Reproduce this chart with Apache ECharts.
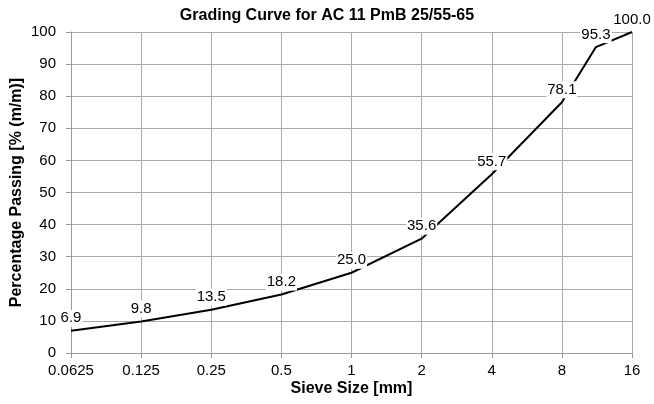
<!DOCTYPE html>
<html>
<head>
<meta charset="utf-8">
<script src="https://cdn.jsdelivr.net/npm/echarts@6/dist/echarts.min.js"></script>
<style>
  html, body { margin: 0; padding: 0; background: #fff; }
  #chart { width: 654px; height: 404px; }
</style>
</head>
<body>
<div id="chart"></div>
<script>
const sieveSizes = [0.0625, 0.125, 0.25, 0.5, 1, 2, 4, 8, 11.2, 16];
const passing = [6.9, 9.8, 13.5, 18.2, 25.0, 35.6, 55.7, 78.1, 95.3, 100.0];

const font = 'Liberation Sans, Arial, sans-serif';

const chart = echarts.init(document.getElementById('chart'), null, { renderer: 'canvas' });

chart.setOption({
  animation: false,
  title: {
    text: 'Grading Curve for AC 11 PmB 25/55-65',
    left: 'center',
    top: 3,
    textStyle: { fontFamily: font, fontSize: 16, fontWeight: 'bold', color: '#000' }
  },
  // keep the plot box fixed, the original's labels hang out to the left
  grid: { left: 71, right: 22, top: 32, bottom: 51, containLabel: false, outerBoundsMode: 'none' },
  xAxis: {
    type: 'log',
    logBase: 2,
    min: 0.0625,
    max: 16,
    name: 'Sieve Size [mm]',
    nameLocation: 'middle',
    nameGap: 28,
    nameMoveOverlap: false,
    nameTextStyle: { fontFamily: font, fontSize: 16, fontWeight: 'bold', color: '#000' },
    axisLine: { lineStyle: { color: '#999' } },
    axisTick: { show: true, length: 5, lineStyle: { color: '#999' } },
    splitLine: { show: true, lineStyle: { color: '#aaa' } },
    axisLabel: {
      fontFamily: font, fontSize: 15, color: '#000', margin: 10,
      formatter: v => String(+v.toPrecision(6))
    }
  },
  yAxis: {
    type: 'value',
    min: 0,
    max: 100,
    interval: 10,
    name: 'Percentage Passing [% (m/m)]',
    nameLocation: 'middle',
    nameGap: 46,
    nameMoveOverlap: false,
    nameTextStyle: { fontFamily: font, fontSize: 16, fontWeight: 'bold', color: '#000' },
    axisLine: { show: true, lineStyle: { color: '#999' } },
    axisTick: { show: true, length: 5, lineStyle: { color: '#999' } },
    splitLine: { show: true, lineStyle: { color: '#aaa' } },
    axisLabel: { fontFamily: font, fontSize: 15, color: '#000', margin: 15 }
  },
  series: [{
    type: 'line',
    data: sieveSizes.map((s, i) => [s, passing[i]]),
    symbol: 'circle',
    symbolSize: 0,
    showSymbol: true,
    itemStyle: { color: '#000' },
    lineStyle: { color: '#000', width: 2 },
    labelLayout: { hideOverlap: false },
    label: {
      show: true,
      position: 'top',
      distance: 4,
      fontFamily: font,
      fontSize: 15,
      color: '#000',
      backgroundColor: '#fff',
      padding: [1, 1],
      formatter: p => p.value[1].toFixed(1)
    }
  }]
});
</script>
</body>
</html>
